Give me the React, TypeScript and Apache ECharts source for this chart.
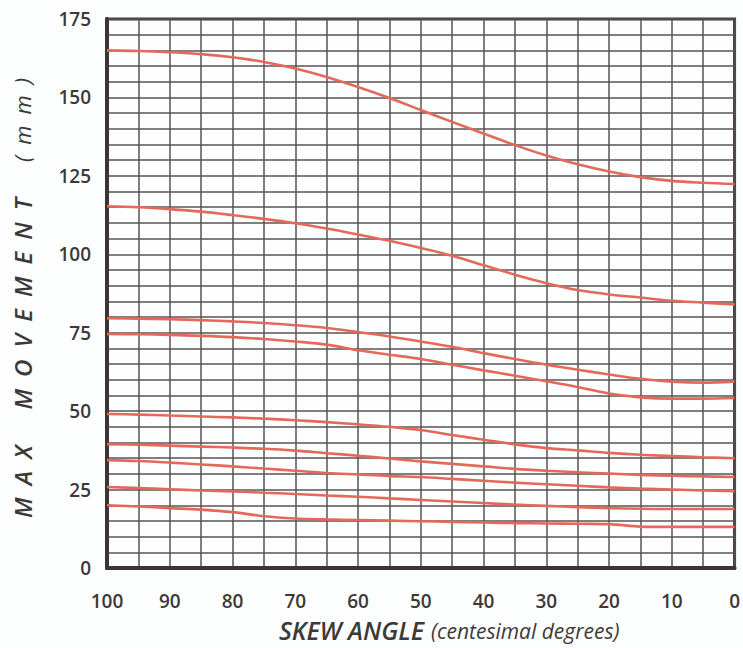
import React, { useEffect, useRef } from "react";
import * as echarts from "echarts";

const SKEW = [100, 95, 90, 85, 80, 75, 70, 65, 60, 55, 50, 45, 40, 35, 30, 25, 20, 15, 10, 5, 0];

const CURVE_165 = [165, 164.8, 164.4, 163.8, 162.8, 161.3, 159.2, 156.5, 153.3, 149.8, 146, 142.2, 138.5, 134.8, 131.5, 128.7, 126.4, 124.6, 123.4, 122.8, 122.4];
const CURVE_115 = [115.3, 115, 114.4, 113.6, 112.5, 111.3, 109.9, 108.2, 106.3, 104.3, 102, 99.5, 96.5, 93.5, 90.8, 88.6, 87.2, 86.2, 85.2, 84.6, 84];
const CURVE_80 = [79.6, 79.5, 79.3, 79, 78.6, 78.1, 77.4, 76.5, 75.2, 73.8, 72.2, 70.5, 68.5, 66.6, 64.8, 63.2, 61.7, 60.3, 59.4, 59.1, 59.4];
const CURVE_75 = [74.6, 74.5, 74.3, 74, 73.6, 73, 72.2, 71.2, 69.4, 68, 66.6, 64.8, 63, 61.3, 59.5, 57.7, 55.6, 54.4, 54, 54, 54.2];
const CURVE_49 = [49.1, 48.9, 48.6, 48.3, 48, 47.6, 47.1, 46.5, 45.8, 45, 44, 42.4, 40.9, 39.4, 38.2, 37.5, 36.7, 36.1, 35.7, 35.3, 35];
const CURVE_39 = [39.5, 39.3, 39, 38.7, 38.4, 38, 37.4, 36.6, 35.8, 34.9, 34, 33.2, 32.4, 31.6, 31, 30.5, 30.1, 29.7, 29.4, 29.2, 29];
const CURVE_34 = [34.4, 34.1, 33.6, 33, 32.4, 31.7, 31, 30.3, 29.8, 29.3, 29, 28.4, 27.8, 27.2, 26.7, 26.2, 25.7, 25.3, 25, 24.7, 24.5];
const CURVE_25 = [25.8, 25.5, 25.1, 24.7, 24.4, 24, 23.6, 23.1, 22.7, 22.2, 21.7, 21.2, 20.7, 20.2, 19.8, 19.4, 19.1, 18.9, 18.8, 18.8, 18.8];
const CURVE_19 = [20, 19.6, 19.1, 18.6, 17.8, 16.5, 15.8, 15.5, 15.3, 15.1, 14.9, 14.7, 14.5, 14.3, 14.2, 14.1, 14, 13.2, 13.1, 13.1, 13.1];

const CURVES = [CURVE_165, CURVE_115, CURVE_80, CURVE_75, CURVE_49, CURVE_39, CURVE_34, CURVE_25, CURVE_19];

const X_LABELS = [100, 90, 80, 70, 60, 50, 40, 30, 20, 10, 0];
const Y_LABELS = [0, 25, 50, 75, 100, 125, 150, 175];

const TEXT = "#3d3939";
const GRIDC = "#5a5252";
const LINEC = "#e4695b";

export default function App() {
  const ref = useRef<HTMLDivElement>(null);
  useEffect(() => {
    document.body.style.margin = "0";
    const chart = echarts.init(ref.current!, null, { renderer: "svg" });
    const sp = "\u2002";
    const yTitle = ["M", "A", "X"].join(sp) + sp + "\u2003" + ["M", "O", "V", "E", "M", "E", "N", "T"].join(sp) + sp + "\u2003";
    chart.setOption({
      animation: false,
      backgroundColor: "#fdfefe",
      grid: {
        left: 107,
        right: 6,
        top: 19,
        bottom: 80,
        show: true,
        borderColor: "#3d3535",
        borderWidth: 3,
      },
      xAxis: {
        type: "value",
        inverse: true,
        min: 0,
        max: 100,
        interval: 5,
        axisLine: { show: true, onZero: false, lineStyle: { color: "#3d3535", width: 4 } },
        axisTick: { show: false },
        splitLine: { show: true, lineStyle: { color: GRIDC, width: 1.5 } },
        axisLabel: {
          margin: 23,
          color: TEXT,
          fontFamily: "Open Sans",
          fontWeight: 600,
          fontSize: 19,
          formatter: (v: number) => (X_LABELS.includes(v) ? String(v) : ""),
        },
      },
      yAxis: {
        type: "value",
        min: 0,
        max: 175,
        interval: 5,
        axisLine: { show: true, onZero: false, lineStyle: { color: "#3d3535", width: 4 } },
        axisTick: { show: false },
        splitLine: { show: true, lineStyle: { color: GRIDC, width: 1.5 } },
        axisLabel: {
          margin: 16,
          color: TEXT,
          fontFamily: "Open Sans",
          fontWeight: 600,
          fontSize: 19,
          formatter: (v: number) => (Y_LABELS.includes(v) ? String(v) : ""),
        },
      },
      series: CURVES.map((c) => ({
        type: "line",
        data: SKEW.map((x, i) => [x, c[i]]),
        symbol: "none",
        smooth: 0.35,
        lineStyle: { color: LINEC, width: 2.6 },
      })),
      graphic: [
        {
          type: "text",
          x: 22,
          y: 298,
          rotation: Math.PI / 2,
          style: {
            text: "{a|" + yTitle + "}{b|(" + sp + "m" + sp + "m" + sp + ")}",
            align: "center",
            verticalAlign: "middle",
            rich: {
              a: { fontFamily: "Open Sans", fontStyle: "italic", fontWeight: 600, fontSize: 24, fill: TEXT },
              b: { fontFamily: "Open Sans", fontStyle: "italic", fontWeight: 400, fontSize: 22, fill: TEXT },
            },
          },
        },
        {
          type: "text",
          x: 424,
          y: 630,
          style: {
            text: "SKEW ANGLE",
            align: "right",
            verticalAlign: "middle",
            fontFamily: "Open Sans",
            fontStyle: "italic",
            fontWeight: 600,
            fontSize: 25,
            fill: TEXT,
          },
        },
        {
          type: "text",
          x: 431,
          y: 631,
          style: {
            text: "(centesimal degrees)",
            align: "left",
            verticalAlign: "middle",
            fontFamily: "Open Sans",
            fontStyle: "italic",
            fontWeight: 400,
            fontSize: 21,
            fill: TEXT,
          },
        },
      ],
    });
    return () => chart.dispose();
  }, []);
  return <div ref={ref} style={{ width: 743, height: 648 }} />;
}
